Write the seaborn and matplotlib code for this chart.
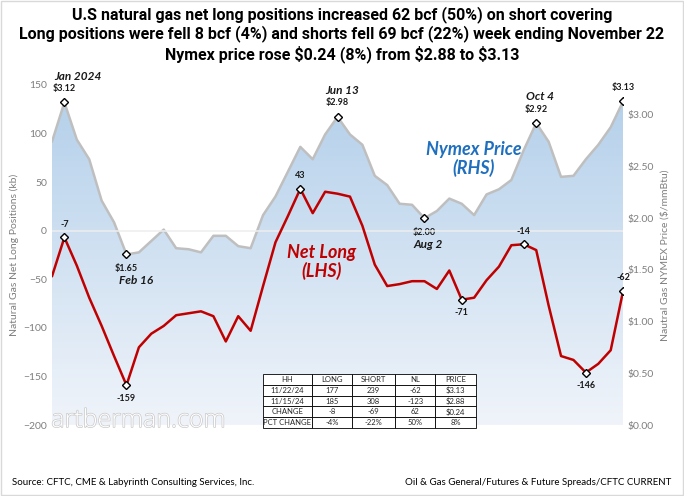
"""
Net long positions in natural gas futures vs Nymex price, 2024 weekly.
"""

import numpy as np
import pandas as pd
import matplotlib.pyplot as plt
import matplotlib.patheffects as pe
from matplotlib.patches import Polygon, Rectangle
from matplotlib.colors import LinearSegmentedColormap
import seaborn as sns

sns.set_style("white")
plt.rcParams['font.family'] = ['Lato', 'DejaVu Sans']

# weekly data, 1/5/24 .. 11/22/24
weeks = pd.date_range('2024-01-05', '2024-11-22', freq='7D')
week_labels = [f"{d.month}/{d.day}/{d.strftime('%y')}" for d in weeks]

price = [2.74, 3.12, 2.76, 2.57, 2.17, 1.96, 1.65, 1.67, 1.78, 1.89, 1.71, 1.70,
         1.67, 1.83, 1.83, 1.73, 1.71, 2.03, 2.21, 2.45, 2.69, 2.57, 2.81, 2.98,
         2.81, 2.71, 2.41, 2.32, 2.14, 2.13, 2.00, 2.07, 2.19, 2.14, 2.03, 2.23,
         2.28, 2.37, 2.66, 2.92, 2.74, 2.40, 2.41, 2.57, 2.71, 2.88, 3.13]
net_long = [-47, -7, -36, -69, -98, -129, -159, -120, -106, -98, -87, -85,
            -83, -88, -114, -88, -103, -57, -12, 15, 43, 18, 40, 38,
            35, 5, -35, -57, -55, -52, -52, -60, -41, -71, -69, -51,
            -37, -15, -14, -20, -77, -129, -133, -146, -137, -123, -62]

# highlighted points: (index, label, date caption)
price_marks = [(1, '$3.12', 'Jan 2024'), (6, '$1.65', 'Feb 16'), (23, '$2.98', 'Jun 13'),
               (30, '$2.00', 'Aug 2'), (39, '$2.92', 'Oct 4'), (46, '$3.13', None)]
net_marks = [1, 6, 20, 33, 38, 43, 46]

table_cols = ['HH', 'LONG', 'SHORT', 'NL', 'PRICE']
table_rows = [['11/22/24', '177', '239', '-62', '$3.13'],
              ['11/15/24', '185', '308', '-123', '$2.88'],
              ['CHANGE', '-8', '-69', '62', '$0.24'],
              ['PCT CHANGE', '-4%', '-22%', '50%', '8%']]

df = pd.DataFrame({'week': np.arange(len(weeks)), 'price': price, 'net_long': net_long})
n = len(df) - 1

fig = plt.figure(figsize=(6.84, 4.96), dpi=100)
ax2 = fig.add_axes([0.076, 0.143, 0.835, 0.686])
ax1 = ax2.twinx()
ax1.yaxis.tick_left()
ax1.yaxis.set_label_position('left')
ax2.yaxis.tick_right()
ax2.yaxis.set_label_position('right')

# watermark sits behind the plot
fig.text(0.075, 0.139, 'artberman.com', fontsize=18, color='white', fontweight='light',
         family='Open Sans', va='baseline',
         path_effects=[pe.withStroke(linewidth=1.0, foreground='#c8c8c8')], zorder=0.5)

# price (right axis) with gradient fill
PMAX = 3.29
ax2.set_xlim(0, n)
ax2.set_ylim(0, PMAX)
cmap = LinearSegmentedColormap.from_list('fill', ['#f0f4fa', '#b2cfea'])
grad = np.linspace(0, 1, 256).reshape(-1, 1)
img = ax2.imshow(grad, extent=[0, n, 0, PMAX], aspect='auto', cmap=cmap,
                 origin='lower', zorder=0)
verts = [(0, 0)] + list(zip(df['week'], df['price'])) + [(n, 0)]
clip = Polygon(verts, closed=True, facecolor='none', edgecolor='none',
               transform=ax2.transData)
ax2.add_patch(clip)
img.set_clip_path(clip)
sns.lineplot(data=df, x='week', y='price', color='#bfbfbf', linewidth=1.8, ax=ax2)

# net long (left axis)
ax1.set_ylim(-200, 150)
ax1.axhline(0, color='#eeeeee', linewidth=1.1, zorder=1)
sns.lineplot(data=df, x='week', y='net_long', color='#c00000', linewidth=1.8, ax=ax1)

mk = dict(marker='D', markersize=4.5, markerfacecolor='white',
          markeredgecolor='black', markeredgewidth=1, linestyle='none', zorder=5)
pi = [m[0] for m in price_marks]
ax2.plot(df['week'][pi], df['price'][pi], **mk)
ax1.plot(df['week'][net_marks], df['net_long'][net_marks], **mk)

small = dict(fontsize=6.5, fontweight='bold', ha='center', va='center',
             textcoords='offset points', color='#1a1a1a')
date_font = dict(fontsize=8.5, fontweight='bold', fontstyle='italic', ha='center',
                 va='center', textcoords='offset points', color='#1a1a1a')
for i, lab, cap in price_marks:
    up = i not in (6, 30)
    sgn = 1 if up else -1
    ax2.annotate(lab, (i, price[i]), xytext=(0, sgn * 10), **small)
    if cap:
        dx = {1: 10, 6: 7, 23: 3, 30: 3, 39: 3}[i]
        ax2.annotate(cap, (i, price[i]), xytext=(dx, sgn * 19), **date_font)
for i in net_marks:
    sgn = -1 if i in (6, 33, 43) else 1
    ax1.annotate(f"{net_long[i]}", (i, net_long[i]), xytext=(0, sgn * 9.5), **small)

ax1.text(0.472, 0.479, 'Net Long\n(LHS)', transform=ax1.transAxes, ha='center',
         va='center', fontsize=13, fontweight='bold', fontstyle='italic',
         color='#c00000', linespacing=1.1)
ax1.text(0.739, 0.782, 'Nymex Price\n(RHS)', transform=ax1.transAxes, ha='center',
         va='center', fontsize=13, fontweight='bold', fontstyle='italic',
         color='#1f6fbf', linespacing=1.1)

# axes styling
ax1.set_zorder(ax2.get_zorder() + 1)
ax1.patch.set_visible(False)
ax2.patch.set_visible(False)
for a in (ax1, ax2):
    for s in a.spines.values():
        s.set_visible(False)
    a.tick_params(length=0, labelsize=7.5, labelcolor='#7f7f7f')
ax1.set_yticks(np.arange(-200, 151, 50))
ax2.set_yticks(np.arange(0, 3.01, 0.5))
ax2.set_yticklabels([f"${v:.2f}" for v in np.arange(0, 3.01, 0.5)])
ax1.set_ylabel('Natural Gas Net Long Positions (kb)', fontsize=7.5, color='#7f7f7f',
               labelpad=3)
ax2.set_ylabel('Nautral Gas NYMEX Price ($/mmBtu)', fontsize=7.5, color='#7f7f7f')
ax1.set_xlabel('')
ax2.set_xlabel('')
ax1.set_xticks(df['week'][::2])
ax1.set_xticklabels(week_labels[::2], rotation=90, fontsize=7, color='#7f7f7f')
ax1.tick_params(axis='x', pad=5)
ax2.set_xticks([])

# summary table
tax = fig.add_axes([0.3845, 0.137, 0.311, 0.109])
tax.axis('off')
tbl = tax.table(cellText=table_rows, colLabels=table_cols, cellLoc='center',
                colWidths=[0.23, 0.19, 0.2, 0.19, 0.19], bbox=[0, 0, 1, 1])
tbl.auto_set_font_size(False)
tbl.set_fontsize(5.5)
for cell in tbl.get_celld().values():
    cell.set_edgecolor('black')
    cell.set_linewidth(0.6)
    cell.set_facecolor('white')
    cell.PAD = 0.02
tbl.set_zorder(10)

# title and footer
fig.text(0.5, 0.988, 'U.S natural gas net long positions increased 62 bcf (50%) on short covering\n'
         'Long positions were fell 8 bcf (4%) and shorts fell 69 bcf (22%) week ending November 22\n'
         'Nymex price rose $0.24 (8%) from $2.88 to $3.13',
         ha='center', va='top', fontsize=11.5, fontweight='bold', family='Roboto',
         linespacing=1.2, color='black')
fig.text(0.018, 0.027, 'Source: CFTC, CME & Labyrinth Consulting Services, Inc.',
         fontsize=7, ha='left', va='center', color='black')
fig.text(0.982, 0.027, 'Oil & Gas General/Futures & Future Spreads/CFTC CURRENT',
         fontsize=7, ha='right', va='center', color='black')
fig.patches.append(Rectangle((0.002, 0.003), 0.996, 0.994, transform=fig.transFigure,
                             fill=False, edgecolor='#d9d9d9', linewidth=1))

plt.savefig('out.png', dpi=100)
plt.close()
